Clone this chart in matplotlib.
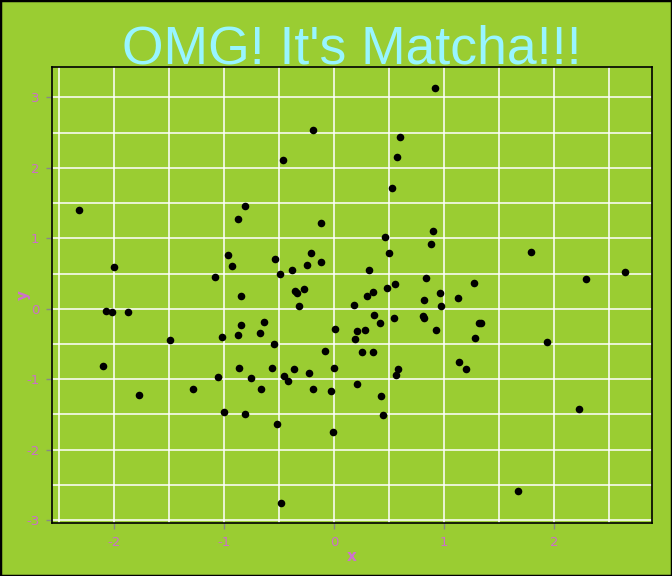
import matplotlib
matplotlib.use("Agg")
import matplotlib.pyplot as plt
from matplotlib.ticker import MultipleLocator

plt.rcParams["axes.unicode_minus"] = False

x = [-2.318, -2.0, -2.073, -2.018, -1.873, -1.085, -0.964, -0.927, -0.876, -0.809,
     -0.845, -0.536, -0.491, -0.464, -0.382, -0.357, -0.336, -0.273, -0.318, -0.245,
     -0.209, -0.191, -0.118, -0.118,
     0.918, 0.6, 0.573, 0.527, 0.464, 0.5, 0.9, 0.882, 1.791, 2.645,
     2.291, 0.318, 0.836, 1.273, 0.555, 0.482, 0.355, 0.3, 0.964, 0.818,
     1.127, 0.182, 0.973, 0.364, 0.545, 0.809, 0.818,
     0.418, 1.318, 1.336, 0.009, 0.209, 0.282, 0.927, 0.191, 1.282, 1.936,
     0.255, 0.355, 1.136, 1.2, 0.582, 0.564, 0.0, 0.209, -0.027, 0.427,
     0.445, -0.009, 2.227, 1.673,
     -1.491, -2.1, -1.773, -1.282, -1.018, -1.055, -1.0, -0.873, -0.845, -0.864,
     -0.809, -0.755, -0.673, -0.636, -0.664, -0.564, -0.545, -0.518, -0.455, -0.418,
     -0.364, -0.482, -0.227, -0.191, -0.082]
y = [1.406, 0.597, -0.03, -0.04, -0.04, 0.455, 0.767, 0.611, 1.278, 1.463,
     0.185, 0.71, 0.497, 2.116, 0.554, 0.246, 0.227, 0.284, 0.043, 0.625,
     0.795, 2.543, 1.222, 0.668,
     3.125, 2.443, 2.159, 1.719, 1.023, 0.795, 1.108, 0.923, 0.81, 0.526,
     0.426, 0.554, 0.44, 0.369, 0.355, 0.298, 0.241, 0.185, 0.227, 0.128,
     0.156, 0.057, 0.043, -0.085, -0.128, -0.109, -0.138,
     -0.199, -0.199, -0.199, -0.284, -0.312, -0.298, -0.298, -0.426, -0.412, -0.469,
     -0.611, -0.611, -0.753, -0.852, -0.852, -0.937, -0.838, -1.065, -1.165, -1.236,
     -1.506, -1.747, -1.42, -2.585,
     -0.44, -0.81, -1.222, -1.136, -0.398, -0.966, -1.463, -0.369, -0.227, -0.838,
     -1.491, -0.98, -0.341, -0.185, -1.136, -0.838, -0.497, -1.634, -0.952, -1.023,
     -0.852, -2.756, -0.909, -1.136, -0.597]

title = "OMG! It's Matcha!!!"
x_ticks = [-2, -1, 0, 1, 2]
y_ticks = [-3, -2, -1, 0, 1, 2, 3]

bg = "#9ACD32"
W, H = 672, 576
fig = plt.figure(figsize=(W / 100, H / 100), dpi=100, facecolor=bg)
# outer border
fig.patches.append(plt.Rectangle((0, 0), 1, 1, transform=fig.transFigure,
                                 fill=False, edgecolor="black", linewidth=2.5, zorder=10))

L, R, T, B = 52, 652, 67, 523
ax = fig.add_axes([L / W, 1 - B / H, (R - L) / W, (B - T) / H])
ax.set_facecolor(bg)
ax.scatter(x, y, s=30, color="black", zorder=3, linewidths=0)

ax.set_xlim(-2.564, 2.89)
ax.set_ylim(-3.04, 3.43)
ax.set_xticks(x_ticks)
ax.set_yticks(y_ticks)
ax.xaxis.set_minor_locator(MultipleLocator(0.5))
ax.yaxis.set_minor_locator(MultipleLocator(0.5))
ax.grid(True, which="both", color="white", linewidth=1.1)
ax.set_axisbelow(True)
for s in ax.spines.values():
    s.set_color("black")
    s.set_linewidth(1.2)
lab_col = "#CC6FC8"
ax.tick_params(axis="both", which="major", colors="#888888", labelcolor=lab_col,
               labelsize=9.5, length=4, width=1, direction="out", pad=5)
ax.tick_params(axis="both", which="minor", length=0)
ax.set_xlabel("x", color="#D070D0", fontsize=11, fontweight="bold")
ax.set_ylabel("y", color="#D070D0", fontsize=11, fontweight="bold")
ax.xaxis.set_label_coords(0.5, -(549 - B) / (B - T))
ax.yaxis.set_label_coords(-(L - 31) / (R - L), 0.5)

fig.text(((L + R) / 2) / W, 1 - 63 / H, title, ha="center", va="baseline",
         color="#98F5FF", fontsize=38.5, family="Liberation Sans")

fig.savefig("out.png", dpi=100, facecolor=bg)
